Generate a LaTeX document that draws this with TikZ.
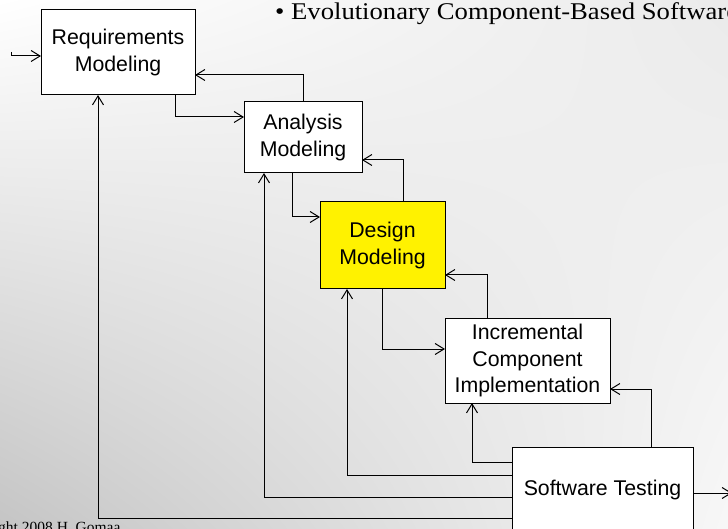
\documentclass[tikz,border=0pt]{standalone}
\usepackage{fontspec}
\setmainfont{Liberation Serif}
\newfontfamily\boxfont{Liberation Sans}
\usetikzlibrary{arrows.meta, positioning, shadings}

\begin{document}
\begin{tikzpicture}[
    x=1pt, y=-1pt,
    box/.style = {rectangle, draw=black, line width=1pt, fill=white,
                  inner sep=0pt, outer sep=0pt, align=center,
                  font=\boxfont\fontsize{21.3}{26.5}\selectfont},
    current/.style = {box, fill=yellow},
    arrow/.style = {-{Straight Barb[length=9pt, width=11pt]}, line width=1pt}
]

% Background
\useasboundingbox (0,0) rectangle (728,529);
\clip (0,0) rectangle (728,529);
\shade[upper left=white, upper right=black!8, lower left=black!23, lower right=black!3]
    (0,0) rectangle (728,529);

% Slide text
\node[anchor=base west, inner sep=0pt, font=\fontsize{24}{28}\selectfont] (title) at (275,20)
    {\scalebox{1.11}[1]{\textbullet\ Evolutionary Component-Based Software}};
\node[anchor=base west, inner sep=0pt, font=\fontsize{15.5}{18}\selectfont] (copy) at (-2,532)
    {ght 2008 H. Gomaa};

% Requirements
\node[box, minimum width=154pt, minimum height=85pt] (req) at (118,52.5) {Requirements\\Modeling};

% Analysis
\node[box, minimum width=118pt, minimum height=71pt, below right=7pt and 49pt of req] (ana) {Analysis\\Modeling};

% Design
\node[current, minimum width=125pt, minimum height=87pt, below right=29pt and -42pt of ana] (des) {Design\\Modeling};

% Implementation
\node[box, minimum width=165pt, minimum height=85pt, below right=29pt and 0pt of des] (inc) {Incremental\\Component\\Implementation};

% Testing
\node[box, minimum width=181pt, minimum height=86pt, below right=44pt and -98pt of inc] (tst) {Software Testing};

% Free ends
\coordinate (entry) at (11,52);
\coordinate (exit) at (732,493);

% Forward arrows
\draw[arrow] (entry) |- ([yshift=-3.5pt]req.west);
\draw[arrow] ([xshift=-20pt]req.south east) |- ([yshift=-15pt]ana.north west);
\draw[arrow] ([xshift=-11pt]ana.south) |- ([yshift=-15pt]des.north west);
\draw[arrow] (des.south) |- ([yshift=-31pt]inc.north west);
\draw[arrow] (tst.east |- exit) -- (exit);

% Feedback arrows
\draw[arrow] (ana.north) |- ([yshift=20pt]req.south east);
\draw[arrow] ([xshift=-42pt]des.north east) |- ([yshift=13pt]ana.south east);
\draw[arrow] ([xshift=42pt]inc.north west) |- ([yshift=14pt]des.south east);
\draw[arrow] ([xshift=-42pt]tst.north east) |- ([yshift=14pt]inc.south east);

% Testing back to every phase
\draw[arrow] ([yshift=-15pt]tst.north west) -| ([xshift=27pt]inc.south west);
\draw[arrow] ([yshift=-28pt]tst.north west) -| ([xshift=27pt]des.south west);
\draw[arrow] ([yshift=-50pt]tst.north west) -| ([xshift=20pt]ana.south west);
\draw[arrow] ([yshift=-71pt]tst.north west) -| ([xshift=57pt]req.south west);

\end{tikzpicture}
\end{document}
